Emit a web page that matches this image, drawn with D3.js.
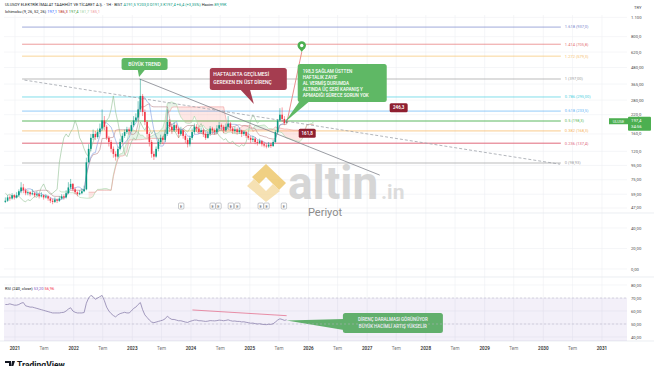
<!DOCTYPE html>
<html>
<head>
<meta charset="utf-8">
<script src="https://cdn.jsdelivr.net/npm/d3@7.9.0/dist/d3.min.js"></script>
<style>
  html, body { margin: 0; padding: 0; background: #fff; }
  svg { display: block; font-family: Roboto, "Liberation Sans", sans-serif; }
</style>
</head>
<body>
<svg id="chart" width="654" height="366"></svg>
<script>
// -------------------------
// Data (two-week bars)
// -------------------------
const candleStart = '2020-11-02';
const firstOpen = 52;

const closes = [
  53, 56, 55, 58, 56, 58, 62, 66, 63, 60,
  61, 59, 60, 58, 59, 57, 58, 56, 57, 55,
  53, 52, 54, 53, 55, 57, 56, 60, 66, 70,
  64, 61, 59, 60, 62, 64, 100, 125, 150, 160,
  152, 165, 175, 200, 180, 150, 140, 125, 115, 110,
  125, 140, 155, 165, 172, 168, 185, 200, 210, 240,
  300, 230, 195, 160, 140, 115, 110, 125, 140, 150,
  145, 160, 195, 180, 170, 185, 175, 160, 170, 155,
  145, 135, 150, 165, 180, 175, 165, 170, 160, 150,
  160, 175, 170, 165, 175, 185, 180, 170, 180, 190,
  175, 168, 172, 165, 170, 160, 165, 155, 150, 145,
  148, 140, 138, 142, 135, 132, 130, 134, 131, 140,
  165, 200, 220, 205, 191, 197.4
];
const highs = [
  56, 58, 58, 60, 59, 61, 64, 72, 70, 65,
  63, 62, 64, 61, 62, 60, 61, 59, 59, 58,
  56, 55, 56, 55, 57, 59, 59, 63, 72, 76,
  71, 66, 62, 63, 65, 68, 108, 135, 160, 172,
  168, 175, 190, 240, 215, 185, 155, 145, 130, 120,
  130, 148, 162, 172, 180, 178, 195, 215, 225, 275,
  397, 310, 240, 200, 165, 145, 120, 130, 148, 158,
  155, 172, 240, 205, 190, 195, 190, 180, 180, 172,
  160, 150, 155, 175, 190, 188, 180, 178, 175, 165,
  168, 182, 180, 175, 185, 195, 190, 185, 190, 215,
  195, 180, 180, 178, 178, 172, 170, 168, 160, 155,
  155, 152, 145, 148, 145, 140, 137, 140, 138, 145,
  170, 205, 245, 248, 215, 203
];
const lows = [
  51, 52, 53, 54, 54, 55, 57, 60, 60, 58,
  58, 57, 58, 56, 57, 55, 56, 54, 55, 53,
  51, 50, 51, 51, 52, 54, 54, 55, 59, 64,
  62, 59, 57, 58, 59, 61, 63, 100, 120, 145,
  145, 148, 160, 170, 170, 145, 130, 118, 108, 103,
  108, 122, 138, 150, 160, 158, 165, 180, 195, 200,
  230, 215, 185, 150, 130, 108, 104, 108, 120, 135,
  135, 140, 155, 165, 160, 165, 165, 150, 155, 148,
  138, 128, 130, 145, 160, 165, 160, 160, 152, 145,
  148, 155, 160, 158, 160, 170, 170, 162, 165, 172,
  168, 160, 162, 158, 160, 152, 155, 150, 145, 138,
  140, 135, 132, 135, 130, 128, 126, 127, 127, 129,
  138, 160, 195, 195, 185, 191.3
];
const rsiValues = [
  65, 65, 65.5, 65, 64.5, 64.5, 65, 66, 66.5, 64,
  63.5, 63, 63, 62.5, 62, 61.5, 61, 60.5, 60, 59.5,
  59, 58.5, 58.5, 58.5, 58.5, 58.8, 59, 60, 61.5, 62.5,
  60, 59, 58.5, 58.5, 58.5, 58.8, 66, 70, 72, 71,
  69, 70, 71, 72, 68, 63, 60, 58, 56.5, 55.5,
  57, 58, 58.5, 59, 58.5, 58.5, 60, 62, 63, 65,
  66.5, 61, 57, 55, 53, 51.5, 51, 51.5, 52, 52.5,
  53, 54, 56, 54.5, 53.5, 53.5, 53, 52.5, 52.5, 52,
  51.5, 51.2, 52, 52.5, 53, 53, 52.5, 52.5, 52.2, 52,
  52.2, 52.6, 52.5, 52.4, 52.6, 53, 52.8, 52.5, 52.8, 53.2,
  52.6, 52.2, 52.3, 52, 52, 51.6, 51.7, 51.3, 51, 50.6,
  50.7, 50.3, 50, 50.2, 49.8, 49.6, 49.5, 49.8, 49.7, 50.2,
  51.5, 53, 54, 53.5, 52.8, 53.2
];

// axis ticks
const priceTicks = [1100, 800, 620, 480, 365, 280, 220, 160, 120, 95, 75, 59, 47];
const priceTickLabels = ['1.100', '800,0', '620,0', '480,00', '365,00', '280,00', '220,0', '160,0', '120,0', '95,00', '75,00', '59,00', '47,00'];
const lowerTicks = [40, 20, 0];
const lowerTickLabels = ['40,00', '20,00', '0,00'];
const rsiTicks = [80, 70, 60, 50, 40];
const rsiTickLabels = ['80,00', '70,00', '60,00', '50,00', '40,00'];
const timeTickDates = [
  '2021-01-01', '2021-07-01', '2022-01-01', '2022-07-01', '2023-01-01', '2023-07-01',
  '2024-01-01', '2024-07-01', '2025-01-01', '2025-07-01', '2026-01-01', '2026-07-01',
  '2027-01-01', '2027-07-01', '2028-01-01', '2028-07-01', '2029-01-01', '2029-07-01',
  '2030-01-01', '2030-07-01', '2031-01-01'
];
const timeTickLabels = [
  '2021', 'Tem', '2022', 'Tem', '2023', 'Tem', '2024', 'Tem', '2025', 'Tem', '2026', 'Tem',
  '2027', 'Tem', '2028', 'Tem', '2029', 'Tem', '2030', 'Tem', '2031'
];

// fibonacci (log) between 98,93 and 397,00
const fibLow = 98.93;
const fibHigh = 397;
const fibStart = '2021-02-14';
const fibEnd = '2030-04-20';
const fibLevels = [1.618, 1.414, 1.272, 1, 0.786, 0.618, 0.5, 0.382, 0.236, 0];
const fibLabels = ['1.618 (937,0)', '1.414 (705,8)', '1.272 (579,3)', '1 (397,00)', '0.786 (295,00)',
  '0.618 (233,5)', '0.5 (198,3)', '0.382 (168,3)', '0.236 (137,4)', '0 (98,93)'];
const fibColors = ['#7986cb', '#e57373', '#f6c16b', '#9e9e9e', '#4dd0e1',
  '#64b5f6', '#5cb860', '#f6b45a', '#e0697a', '#9e9e9e'];

// drawn lines
const longTrend = [['2021-03-01', 390], ['2030-04-15', 97]];
const bigTrend = [['2023-02-15', 397], ['2027-03-20', 81]];
const targetLine = [['2025-08-18', 190], ['2025-11-20', 620]];
const rsiTrend = [['2024-01-10', 60.8], ['2025-08-18', 56.4]];
const earningsDates = ['2023-11-01', '2024-05-15', '2024-06-20', '2024-09-05', '2024-10-15',
  '2025-03-10', '2025-04-15', '2025-08-01'];

// -------------------------
// Scales
// -------------------------
const parseDate = d3.timeParse('%Y-%m-%d');
const barDate = i => d3.timeDay.offset(parseDate(candleStart), 14 * i);

const x = d3.scaleTime().domain([parseDate('2021-01-01'), parseDate('2031-01-01')]).range([15, 602]);
const y = d3.scaleLog().domain([fibLow, fibHigh]).range([163, 79]);
const yLow = d3.scaleLinear().domain([0, 40]).range([269, 228]);
const yRsi = d3.scaleLinear().domain([40, 80]).range([337, 285]);

const plotLeft = 4, plotRight = 627;
const mainTop = 15, mainBottom = 213, lowerBottom = 277, rsiBottom = 341;

const svg = d3.select('#chart');
svg.append('rect').attr('width', 654).attr('height', 366).attr('fill', '#fff');

const defs = svg.append('defs');
defs.append('clipPath').attr('id', 'mainClip')
  .append('rect').attr('x', plotLeft).attr('y', mainTop)
  .attr('width', plotRight - plotLeft).attr('height', mainBottom - mainTop);
defs.append('clipPath').attr('id', 'rsiClip')
  .append('rect').attr('x', plotLeft).attr('y', lowerBottom)
  .attr('width', plotRight - plotLeft).attr('height', rsiBottom - lowerBottom);

// -------------------------
// Grid
// -------------------------
const grid = svg.append('g').attr('stroke', '#eef0f4').attr('stroke-width', 0.6);
timeTickDates.forEach(d => {
  grid.append('line')
    .attr('x1', x(parseDate(d))).attr('x2', x(parseDate(d)))
    .attr('y1', mainTop).attr('y2', rsiBottom);
});
priceTicks.forEach(v => {
  grid.append('line').attr('x1', plotLeft).attr('x2', plotRight).attr('y1', y(v)).attr('y2', y(v));
});
lowerTicks.forEach(v => {
  grid.append('line').attr('x1', plotLeft).attr('x2', plotRight).attr('y1', yLow(v)).attr('y2', yLow(v));
});
rsiTicks.forEach(v => {
  grid.append('line').attr('x1', plotLeft).attr('x2', plotRight).attr('y1', yRsi(v)).attr('y2', yRsi(v));
});

// pane separators
[mainBottom, lowerBottom, rsiBottom].forEach(py => {
  svg.append('line').attr('x1', 0).attr('x2', 654).attr('y1', py).attr('y2', py)
    .attr('stroke', '#e3e6ec').attr('stroke-width', 0.7);
});

// -------------------------
// Watermark
// -------------------------
const wm = svg.append('g').attr('opacity', 0.75);
wm.append('path')
  .attr('d', 'M266,164 L286,183 L279,190 L266,177 L259,184 L252,177 Z')
  .attr('fill', '#ecc15a');
wm.append('path')
  .attr('d', 'M247,186 L254,179 L266,191 L273,184 L280,191 L266,202 Z')
  .attr('fill', '#f4d89a');
wm.append('text').attr('x', 288).attr('y', 199)
  .attr('font-size', 46).attr('font-weight', 700).attr('fill', '#c9c9c9').text('altin');
wm.append('text').attr('x', 381).attr('y', 199)
  .attr('font-size', 21).attr('font-weight', 700).attr('fill', '#d2d2d2').text('.in');
svg.append('text').attr('x', 308).attr('y', 216)
  .attr('font-size', 11).attr('fill', '#8c8c8c').text('Periyot');

// -------------------------
// Main pane
// -------------------------
const main = svg.append('g').attr('clip-path', 'url(#mainClip)');

// fibonacci levels
fibLevels.forEach((r, k) => {
  const price = fibLow * Math.pow(fibHigh / fibLow, r);
  main.append('line')
    .attr('x1', x(parseDate(fibStart))).attr('x2', x(parseDate(fibEnd)))
    .attr('y1', y(price)).attr('y2', y(price))
    .attr('stroke', fibColors[k]).attr('stroke-width', (r === 0.5 || r === 0.236) ? 1 : 0.7);
  main.append('text')
    .attr('x', x(parseDate(fibEnd)) + 4).attr('y', y(price) + 1.4)
    .attr('font-size', 4).attr('fill', fibColors[k]).text(fibLabels[k]);
});

// ichimoku (periods halved for two-week bars)
function midRange(i, n) {
  if (i < n - 1) return null;
  return (d3.max(highs.slice(i - n + 1, i + 1)) + d3.min(lows.slice(i - n + 1, i + 1))) / 2;
}
const shift = 12;
const total = closes.length + shift;
const conv = closes.map((_, i) => midRange(i, 5));
const base = closes.map((_, i) => midRange(i, 13));
const spanA = new Array(total).fill(null);
const spanB = new Array(total).fill(null);
const lagging = new Array(closes.length).fill(null);
closes.forEach((c, i) => {
  if (conv[i] != null && base[i] != null) spanA[i + shift] = (conv[i] + base[i]) / 2;
  spanB[i + shift] = midRange(i, 26);
  if (i >= shift) lagging[i - shift] = c;
});

for (let j = 0; j < total - 1; j++) {
  if ([spanA[j], spanB[j], spanA[j + 1], spanB[j + 1]].some(v => v == null)) continue;
  const x0 = x(barDate(j)), x1 = x(barDate(j + 1));
  main.append('path')
    .attr('d', `M${x0},${y(spanA[j])}L${x1},${y(spanA[j + 1])}L${x1},${y(spanB[j + 1])}L${x0},${y(spanB[j])}Z`)
    .attr('fill', spanA[j] >= spanB[j] ? 'rgba(67,160,71,0.13)' : 'rgba(244,67,54,0.13)');
}

const ichLine = d3.line()
  .defined(d => d != null)
  .x((d, i) => x(barDate(i)))
  .y(d => y(d));
[[spanA, '#a5d6a7'], [spanB, '#ef9a9a'], [lagging, '#8fbf91'], [base, '#b9868a'], [conv, '#7f9be0']]
  .forEach(([vals, color]) => {
    main.append('path').datum(vals)
      .attr('d', ichLine)
      .attr('fill', 'none').attr('stroke', color)
      .attr('stroke-width', 0.7).attr('opacity', 0.85);
  });

// trend lines
const trendLine = d3.line().x(d => x(parseDate(d[0]))).y(d => y(d[1]));
main.append('path').datum(longTrend).attr('d', trendLine)
  .attr('fill', 'none').attr('stroke', '#a0a3ab').attr('stroke-width', 0.8).attr('stroke-dasharray', '3,2');
main.append('path').datum(bigTrend).attr('d', trendLine)
  .attr('fill', 'none').attr('stroke', '#80838c').attr('stroke-width', 0.8);

// candles
const candles = closes.map((c, i) => ({
  date: barDate(i),
  open: i ? closes[i - 1] : firstOpen,
  high: highs[i],
  low: lows[i],
  close: c
}));
candles.forEach(d => {
  const cx = x(d.date);
  const color = d.close >= d.open ? '#089981' : '#f23645';
  main.append('line')
    .attr('x1', cx).attr('x2', cx)
    .attr('y1', y(Math.max(d.high, d.open, d.close))).attr('y2', y(Math.min(d.low, d.open, d.close)))
    .attr('stroke', color).attr('stroke-width', 0.5);
  const top = y(Math.max(d.open, d.close));
  const bot = y(Math.min(d.open, d.close));
  main.append('rect')
    .attr('x', cx - 0.8).attr('width', 1.6)
    .attr('y', top).attr('height', Math.max(bot - top, 0.6))
    .attr('fill', color);
});

// target line with pin
main.append('path').datum(targetLine).attr('d', trendLine)
  .attr('fill', 'none').attr('stroke', '#e57373').attr('stroke-width', 0.8);
const pinX = x(parseDate(targetLine[1][0])), pinY = y(targetLine[1][1]);
main.append('path')
  .attr('d', `M${pinX - 3.6},${pinY - 5} L${pinX},${pinY} L${pinX + 3.6},${pinY - 5} Z`)
  .attr('fill', '#4caf50');
main.append('circle').attr('cx', pinX).attr('cy', pinY - 6.5).attr('r', 4.2).attr('fill', '#4caf50');
main.append('circle').attr('cx', pinX).attr('cy', pinY - 6.5).attr('r', 1.7).attr('fill', '#fff');

// earnings markers
earningsDates.forEach(d => {
  const ex = x(parseDate(d));
  svg.append('rect').attr('x', ex - 2.7).attr('y', 203).attr('width', 5.4).attr('height', 6)
    .attr('rx', 1).attr('fill', '#fff').attr('stroke', '#8d9099').attr('stroke-width', 0.5);
  svg.append('text').attr('x', ex).attr('y', 207.6).attr('text-anchor', 'middle')
    .attr('font-size', 4).attr('fill', '#555').text('E');
});

// -------------------------
// Callouts
// -------------------------
function drawCallout(o) {
  const bx = x(parseDate(o.date)), by = o.scale(o.value);
  const tx = x(parseDate(o.tipDate)), ty = o.scale(o.tipValue);
  svg.append('path')
    .attr('d', `M${bx + o.p1[0]},${by + o.p1[1]} L${tx},${ty} L${bx + o.p2[0]},${by + o.p2[1]} Z`)
    .attr('fill', o.fill);
  svg.append('rect').attr('x', bx).attr('y', by).attr('width', o.w).attr('height', o.h)
    .attr('rx', 2.5).attr('fill', o.fill);
  const t = svg.append('text').attr('fill', '#fff').attr('font-size', o.fs)
    .attr('font-weight', 500).attr('text-anchor', o.anchor || 'start');
  o.lines.forEach((line, k) => {
    t.append('tspan').attr('x', bx + o.tx).attr('y', by + o.ty + k * o.lh).text(line);
  });
}

drawCallout({
  date: '2022-10-26', value: 562, scale: y, w: 46, h: 12,
  tipDate: '2023-02-12', tipValue: 410, p1: [16, 11], p2: [24, 11],
  fill: '#5fb865', lines: ['BÜYÜK TREND'], fs: 5, anchor: 'middle', tx: 23, ty: 7.8, lh: 6
});
drawCallout({
  date: '2024-04-27', value: 476, scale: y, w: 77, h: 22,
  tipDate: '2025-01-26', tipValue: 262, p1: [30, 21], p2: [40, 21],
  fill: '#a53d50', lines: ['HAFTALIKTA GEÇİLMESİ', 'GEREKEN EN ÜST DİRENÇ'],
  fs: 5, tx: 3.5, ty: 7.5, lh: 8.5
});
drawCallout({
  date: '2025-10-26', value: 508, scale: y, w: 89, h: 38,
  tipDate: '2025-08-08', tipValue: 195, p1: [2, 37], p2: [12, 37],
  fill: '#5fb865',
  lines: ['198,3 SAĞLAM ÜSTTEN', 'HAFTALIK ZAYIF', 'AL VERMİŞ DURUMDA', 'ALTINDA ÜÇ SERİ KAPANIŞ Y', 'APMADIĞI SÜRECE SORUN YOK'],
  fs: 4.6, tx: 5, ty: 9, lh: 6
});
drawCallout({
  date: '2026-08-03', value: 58.5, scale: yRsi, w: 100, h: 20,
  tipDate: '2025-08-18', tipValue: 52.6, p1: [1, 6], p2: [1, 17],
  fill: '#5fb865', lines: ['DİRENÇ DARALMASI GÖRÜNÜYOR', 'BÜYÜK HACİMLİ ARTIŞ YÜKSELİR'],
  fs: 4.5, anchor: 'middle', tx: 50, ty: 8.5, lh: 7
});

// price flags
[['2027-07-16', 246.3, '246,3', 18], ['2025-12-24', 161.8, '161,8', 17]].forEach(([d, v, label, w]) => {
  const fx = x(parseDate(d)), fy = y(v);
  svg.append('rect').attr('x', fx - w / 2).attr('y', fy - 4.5).attr('width', w).attr('height', 9)
    .attr('rx', 1.5).attr('fill', '#8e1f30');
  svg.append('text').attr('x', fx).attr('y', fy + 1.6).attr('text-anchor', 'middle')
    .attr('font-size', 4.5).attr('font-weight', 600).attr('fill', '#fff').text(label);
});

// -------------------------
// RSI pane
// -------------------------
const rsiG = svg.append('g').attr('clip-path', 'url(#rsiClip)');
rsiG.append('rect').attr('x', plotLeft).attr('width', plotRight - plotLeft)
  .attr('y', yRsi(70)).attr('height', rsiBottom - yRsi(70))
  .attr('fill', 'rgba(126,87,194,0.09)');
[70, 50].forEach(v => {
  rsiG.append('line').attr('x1', plotLeft).attr('x2', plotRight).attr('y1', yRsi(v)).attr('y2', yRsi(v))
    .attr('stroke', '#b7b2c6').attr('stroke-width', 0.5).attr('stroke-dasharray', '2,2');
});
rsiG.append('path').datum(rsiValues)
  .attr('d', d3.line().x((d, i) => x(barDate(i))).y(d => yRsi(d)))
  .attr('fill', 'none').attr('stroke', '#8d83ad').attr('stroke-width', 0.8);
rsiG.append('path').datum(rsiTrend)
  .attr('d', d3.line().x(d => x(parseDate(d[0]))).y(d => yRsi(d[1])))
  .attr('fill', 'none').attr('stroke', '#e57390').attr('stroke-width', 0.8);

// -------------------------
// Axes and labels
// -------------------------
const axisText = svg.append('g').attr('font-size', 4.2).attr('fill', '#4a4a4a');
priceTicks.forEach((v, k) => {
  axisText.append('text').attr('x', 631).attr('y', y(v) + 1.5).text(priceTickLabels[k]);
});
lowerTicks.forEach((v, k) => {
  axisText.append('text').attr('x', 631).attr('y', yLow(v) + 1.5).text(lowerTickLabels[k]);
});
rsiTicks.forEach((v, k) => {
  axisText.append('text').attr('x', 631).attr('y', yRsi(v) + 1.5).text(rsiTickLabels[k]);
});
axisText.append('text').attr('x', 634).attr('y', 9).text('TRY');

timeTickDates.forEach((d, k) => {
  const isYear = timeTickLabels[k] !== 'Tem';
  svg.append('text').attr('x', x(parseDate(d))).attr('y', 349.5)
    .attr('text-anchor', 'middle').attr('font-size', 4.6)
    .attr('font-weight', isYear ? 600 : 400)
    .attr('fill', isYear ? '#333' : '#777')
    .text(timeTickLabels[k]);
});

// last price labels
const lastY = y(closes[closes.length - 1]);
svg.append('rect').attr('x', 609).attr('y', lastY - 3).attr('width', 19).attr('height', 6)
  .attr('fill', '#4caf50');
svg.append('text').attr('x', 618.5).attr('y', lastY + 1.5).attr('text-anchor', 'middle')
  .attr('font-size', 3.8).attr('fill', '#fff').text('ULUSE');
svg.append('rect').attr('x', 628).attr('y', lastY - 4.5).attr('width', 23).attr('height', 14)
  .attr('rx', 1).attr('fill', '#4caf50');
svg.append('text').attr('x', 631).attr('y', lastY + 1).attr('font-size', 4.3)
  .attr('fill', '#fff').text('197,4');
svg.append('text').attr('x', 631).attr('y', lastY + 7).attr('font-size', 4.3)
  .attr('fill', '#fff').text('34:56');

// legends
const head1 = svg.append('text').attr('x', 5).attr('y', 6).attr('font-size', 4);
head1.append('tspan').attr('fill', '#131722').text('ULUSOY ELEKTRİK İMALAT TAAHHÜT VE TİCARET A.Ş. · 1H · BIST  ');
head1.append('tspan').attr('fill', '#089981').text('A191,5  Y203,0  D191,3  K197,4  +6,4 (+3,35%)  ');
head1.append('tspan').attr('fill', '#131722').text('Hacim  ');
head1.append('tspan').attr('fill', '#089981').text('89,99K');

const head2 = svg.append('text').attr('x', 5).attr('y', 12.5).attr('font-size', 4);
head2.append('tspan').attr('fill', '#131722').text('Ichimoku (9, 26, 52, 26)  ');
[['197,1', '#2962ff'], ['186,3', '#b71c1c'], ['197,4', '#43a047'], ['181,7', '#a5d6a7'], ['185,1', '#ef9a9a']]
  .forEach(([v, c]) => head2.append('tspan').attr('fill', c).text(v + '  '));

const head3 = svg.append('text').attr('x', 5).attr('y', 290).attr('font-size', 4);
head3.append('tspan').attr('fill', '#131722').text('RSI (240, close)  ');
head3.append('tspan').attr('fill', '#7e57c2').text('53,20  ');
head3.append('tspan').attr('fill', '#f23645').text('56,96');

// TradingView mark
svg.append('path').attr('d', 'M5,361 h6 v6 h-2 v-4 h-4 Z M12,361 h3 l-2,6 h-2 Z').attr('fill', '#131722');
svg.append('text').attr('x', 17).attr('y', 368).attr('font-size', 8.5).attr('font-weight', 700)
  .attr('fill', '#131722').text('TradingView');
</script>
</body>
</html>
